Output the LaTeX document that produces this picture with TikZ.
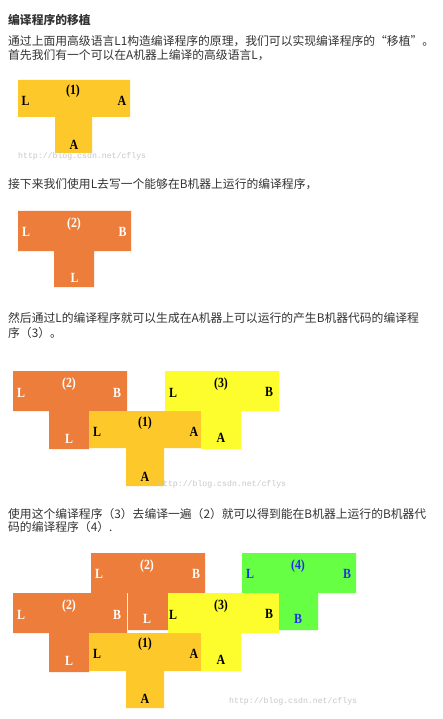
\documentclass[tikz,border=0pt]{standalone}
\usepackage{fontspec}
\setmainfont{Liberation Serif}
\newfontfamily\cjk{Noto Sans CJK SC}
\newfontfamily\lab[FakeStretch=0.85]{Liberation Serif}
\newfontfamily\wm{Liberation Mono}
\definecolor{txtc}{RGB}{51,51,51}
\definecolor{cone}{RGB}{253,200,42}
\definecolor{ctwo}{RGB}{237,125,59}
\definecolor{cthree}{RGB}{253,253,45}
\definecolor{cfour}{RGB}{102,255,68}
\definecolor{cblue}{RGB}{30,50,230}
\newcommand\teeshape[8]{\fill[#8] (#1,#2) rectangle (#3,#4) (#5,#2) rectangle (#6,#7);}
\tikzset{
  txt/.style={anchor=west,inner sep=0,font=\cjk\fontsize{11.8}{14}\selectfont,text=txtc},
  ttl/.style={txt,font=\cjk\bfseries\fontsize{11.8}{14}\selectfont},
  lbl/.style={inner sep=0,font=\lab\bfseries\fontsize{14}{14}\selectfont},
  lblw/.style={lbl,text=white},
  lblb/.style={lbl,text=cblue},
  wmk/.style={anchor=west,inner sep=0,font=\wm\fontsize{8.2}{9}\selectfont,text=black!22},
}
\begin{document}
\begin{tikzpicture}[x=1pt,y=-1pt]
\useasboundingbox[fill=white] (0,0) rectangle (443,719);
% texts
\node[ttl] (title) at (8,19.5) {编译程序的移植};
\node[txt] (p1a) at (8,41) {通过上面用高级语言L1构造编译程序的原理，我们可以实现编译程序的“移植”。};
\node[txt] (p1b) at (8,55) {首先我们有一个可以在A机器上编译的高级语言L，};
\node[txt] (p2) at (8,184) {接下来我们使用L去写一个能够在B机器上运行的编译程序，};
\node[txt] (p3a) at (8,318) {然后通过L的编译程序就可以生成在A机器上可以运行的产生B机器代码的编译程};
\node[txt] (p3b) at (8,333) {序（3）。};
\node[txt] (p4a) at (8,514) {使用这个编译程序（3）去编译一遍（2）就可以得到能在B机器上运行的B机器代};
\node[txt] (p4b) at (8,527.5) {码的编译程序（4）.};
% group 1
\teeshape{18}{80}{130}{117}{55}{92}{153}{cone}
\node[lbl] (a1n) at (73,91) {(1)};
\node[lbl] (a1l) at (25.5,101) {L};
\node[lbl] (a1r) at (122,101) {A};
\node[lbl] (a1b) at (74,145) {A};
% group 2
\teeshape{18}{211}{131}{251}{54}{94}{287}{ctwo}
\node[lblw] (b2n) at (74,224) {(2)};
\node[lblw] (b2l) at (26,232) {L};
\node[lblw] (b2r) at (122.5,232) {B};
\node[lblw] (b2b) at (74.5,277.5) {L};
% group 3
\teeshape{13}{371}{127}{411}{49}{89}{449}{ctwo}
\teeshape{89}{411}{201}{448}{126}{164}{486}{cone}
\teeshape{165}{371}{279}{411}{201}{241}{449}{cthree}
\node[lblw] (c2n) at (69,384) {(2)};
\node[lblw] (c2l) at (21,393) {L};
\node[lblw] (c2r) at (117,393) {B};
\node[lblw] (c2b) at (69,438.5) {L};
\node[lbl] (c1n) at (145,423) {(1)};
\node[lbl] (c1l) at (97,432) {L};
\node[lbl] (c1r) at (194,431.5) {A};
\node[lbl] (c1b) at (145,477) {A};
\node[lbl] (c3n) at (221,384) {(3)};
\node[lbl] (c3l) at (173,393) {L};
\node[lbl] (c3r) at (269,392) {B};
\node[lbl] (c3b) at (221,438) {A};
% group 4
\teeshape{13}{593}{127}{633}{49}{89}{672}{ctwo}
\teeshape{91}{553}{205}{593}{128}{168}{630}{ctwo}
\teeshape{89}{633}{201}{671}{126}{164}{708}{cone}
\teeshape{168}{593}{279}{633}{201}{241}{671}{cthree}
\teeshape{242}{553}{356}{593}{279}{318}{630}{cfour}
\node[lblw] (d2un) at (147,566) {(2)};
\node[lblw] (d2ul) at (99,574) {L};
\node[lblw] (d2ur) at (196,574) {B};
\node[lblw] (d2ub) at (147,619) {L};
\node[lblw] (d2n) at (69,606) {(2)};
\node[lblw] (d2l) at (21,615) {L};
\node[lblw] (d2r) at (117,615) {B};
\node[lblw] (d2b) at (69,660.5) {L};
\node[lbl] (d1n) at (145,644) {(1)};
\node[lbl] (d1l) at (97,654) {L};
\node[lbl] (d1r) at (194,653.5) {A};
\node[lbl] (d1b) at (145,699) {A};
\node[lbl] (d3n) at (221,606) {(3)};
\node[lbl] (d3l) at (173,615) {L};
\node[lbl] (d3r) at (269,614) {B};
\node[lbl] (d3b) at (221,660) {A};
\node[lblb] (d4n) at (298,566) {(4)};
\node[lblb] (d4l) at (250,574) {L};
\node[lblb] (d4r) at (347,574) {B};
\node[lblb] (d4b) at (298,619) {B};
% watermarks
\node[wmk] (w1) at (18,156) {http://blog.csdn.net/cflys};
\node[wmk] (w2) at (158,484) {http://blog.csdn.net/cflys};
\node[wmk] (w3) at (229,701) {http://blog.csdn.net/cflys};
\end{tikzpicture}
\end{document}
